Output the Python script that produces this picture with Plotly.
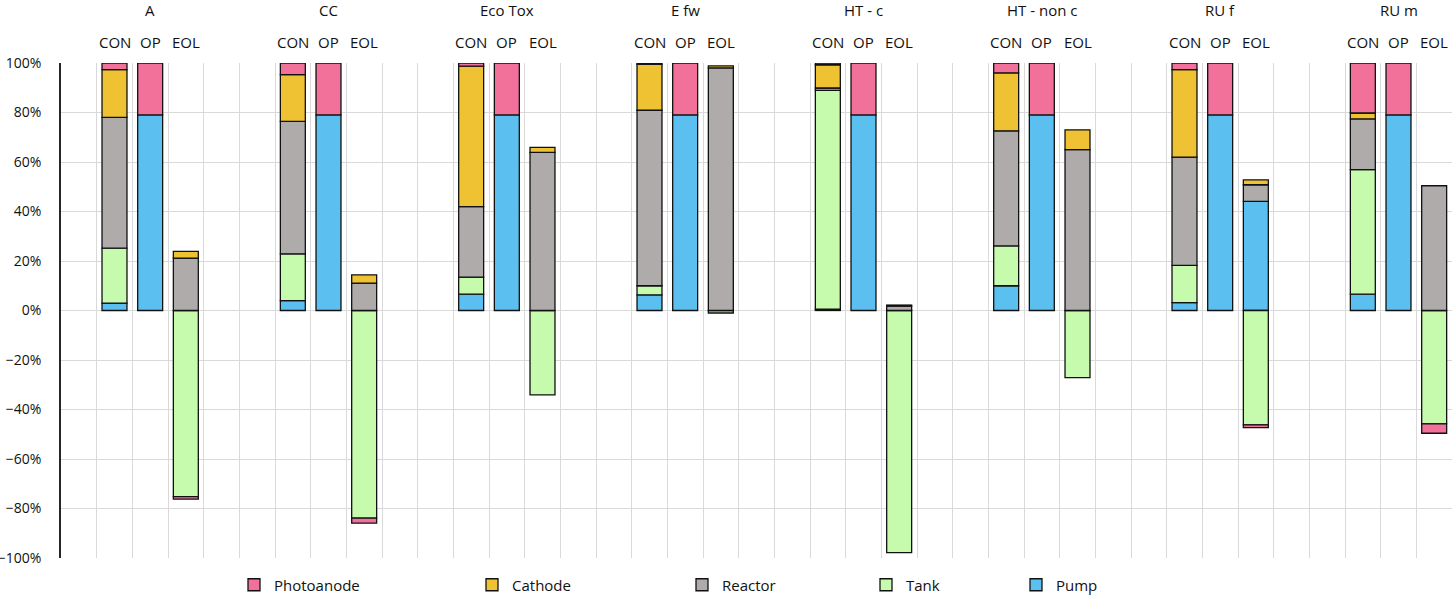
import plotly.graph_objects as go

groups = ["A", "CC", "Eco Tox", "E fw", "HT - c", "HT - non c", "RU f", "RU m"]
stages = ["CON", "OP", "EOL"]

# values in % for each group: [CON, OP, EOL]
pump = [[3.0, 79, 0], [4.0, 79, 0], [6.6, 79, 0], [6.3, 79, 0],
        [0.5, 79, 0], [10.0, 79, 0], [3.2, 79, 44.1], [6.6, 79, 0]]
tank = [[22.2, 0, -75.2], [18.9, 0, -83.9], [6.9, 0, -34.1], [3.7, 0, -1.0],
        [88.4, 0, -97.8], [16.1, 0, -27.1], [15.0, 0, -46.2], [50.3, 0, -45.8]]
reactor = [[52.8, 0, 21.2], [53.5, 0, 11.1], [28.5, 0, 63.9], [70.9, 0, 98.0],
           [1.0, 0, 1.8], [46.5, 0, 65.0], [43.8, 0, 6.7], [20.5, 0, 50.4]]
cathode = [[19.3, 0, 2.7], [18.9, 0, 3.3], [56.7, 0, 2.0], [18.6, 0, 0.8],
           [9.4, 0, 0.4], [23.4, 0, 8.0], [35.3, 0, 2.0], [2.4, 0, 0]]
photoanode = [[2.7, 21, -1.0], [4.7, 21, -2.0], [1.3, 21, 0], [0.5, 21, 0],
              [0.7, 21, 0], [4.0, 21, 0], [2.7, 21, -1.1], [20.2, 21, -3.8]]

series = [
    ("Pump", pump, "#5BC0EF", "legend5", 1016),
    ("Tank", tank, "#C6FBAE", "legend4", 866),
    ("Reactor", reactor, "#AFABAB", "legend3", 682),
    ("Cathode", cathode, "#EEC232", "legend2", 472),
    ("Photoanode", photoanode, "#F1719B", "legend", 234),
]

GROUP_STEP = 5
xs = []
for g in range(len(groups)):
    for s in range(len(stages)):
        xs.append(1 + GROUP_STEP * g + s)

fig = go.Figure()
for name, vals, color, leg, lx in series:
    ys = []
    for g in range(len(groups)):
        for s in range(len(stages)):
            v = vals[g][s]
            ys.append(v if v != 0 else None)
    fig.add_trace(go.Bar(
        x=xs, y=ys, name=name, legend=leg,
        marker=dict(color=color, line=dict(color="#111111", width=1.3)),
        width=0.7,
    ))

font_family = "Open Sans"
FS = 15
annotations = []
for g, gname in enumerate(groups):
    annotations.append(dict(
        x=1 + GROUP_STEP * g + 1, y=1.107, xref="x", yref="paper",
        text=gname, showarrow=False, yanchor="middle",
        font=dict(size=FS, color="#111111", family=font_family)))
    for s, st in enumerate(stages):
        annotations.append(dict(
            x=1 + GROUP_STEP * g + s, y=1.0424, xref="x", yref="paper",
            text=st, showarrow=False, yanchor="middle",
            font=dict(size=FS, color="#111111", family=font_family)))

W, H = 1456, 597
layout = dict(
    width=W, height=H,
    margin=dict(l=61, r=4, t=63, b=39, autoexpand=False),
    plot_bgcolor="white", paper_bgcolor="white",
    barmode="relative",
    font=dict(family=font_family, size=FS, color="#111111"),
    xaxis=dict(range=[-0.5, 38.5], tick0=-0.5, dtick=1, showticklabels=False,
               showgrid=True, gridcolor="#D9D9D9", gridwidth=1.3,
               zeroline=False, showline=False, ticks="", automargin=False),
    yaxis=dict(range=[-100, 100], dtick=20, ticksuffix="%",
               showgrid=True, gridcolor="#D9D9D9", gridwidth=1.3,
               zeroline=True, zerolinecolor="#D9D9D9", zerolinewidth=1.3,
               showline=True, linecolor="#262626", linewidth=1.8,
               ticks="", ticklabelstandoff=15, automargin=False,
               tickfont=dict(size=14, color="#111111")),
    annotations=annotations,
    showlegend=True,
)
for name, vals, color, leg, lx in series:
    layout[leg] = dict(x=lx / W, y=(H - 585) / H, xref="container", yref="container",
                       xanchor="left", yanchor="middle",
                       orientation="h", bgcolor="rgba(0,0,0,0)",
                       font=dict(size=FS, color="#111111", family=font_family),
                       itemwidth=30)
fig.update_layout(**layout)
fig.write_html("out.html")
